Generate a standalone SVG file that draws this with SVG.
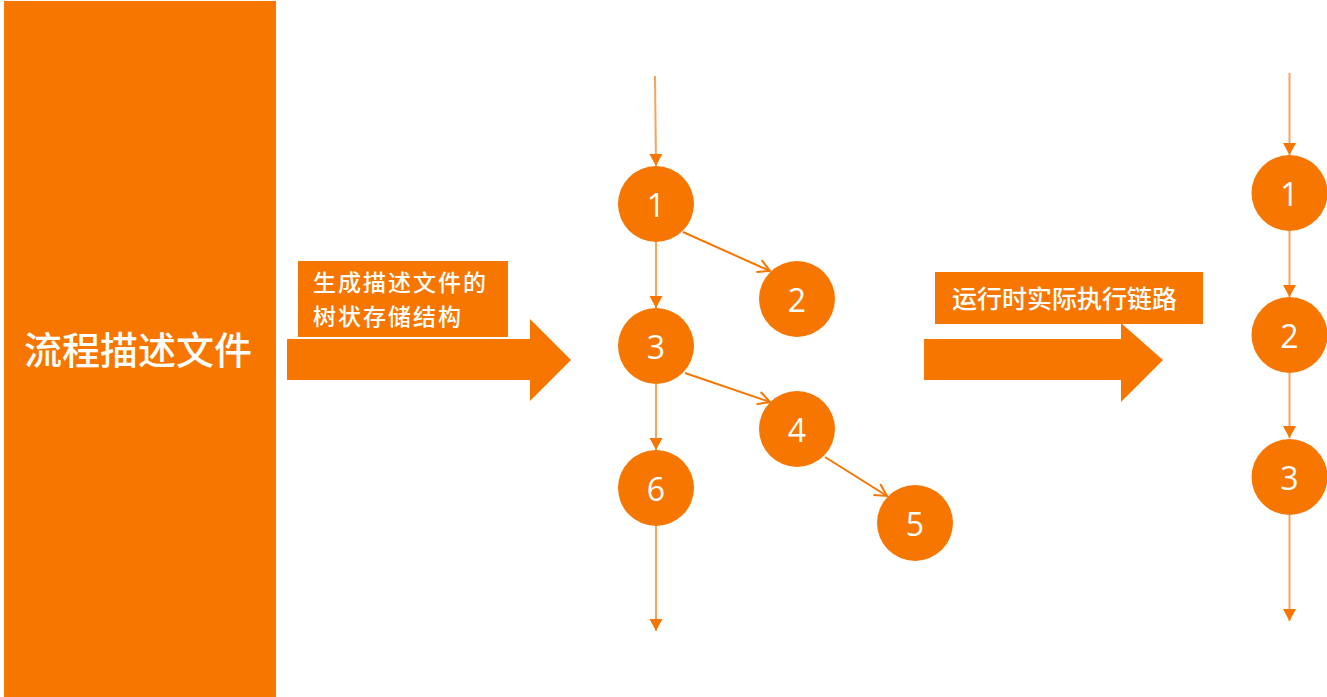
<svg xmlns="http://www.w3.org/2000/svg" width="1327" height="697" viewBox="0 0 1327 697">
<defs>
<style>
.o{fill:#F67600}
.cjk{font-family:"Noto Sans CJK SC","Noto Sans",sans-serif;fill:#ffffff;font-weight:500}
.num{font-family:"Open Sans","Noto Sans",sans-serif;font-size:32px;fill:#ffffff;text-anchor:middle;dominant-baseline:central}
.v{stroke:#F8A25A;stroke-width:2;fill:none}
.d{stroke:#F67600;stroke-width:2;fill:none}
</style>
<marker id="tri" markerUnits="userSpaceOnUse" markerWidth="14" markerHeight="14" viewBox="0 0 14 14" refX="12" refY="7" orient="auto">
<path d="M0,0.5 L12,7 L0,13.5 Z" fill="#F67600"/>
</marker>
<marker id="vee" markerUnits="userSpaceOnUse" markerWidth="16" markerHeight="16" viewBox="0 0 16 16" refX="14" refY="8" orient="auto">
<path d="M2,1.5 L14,8 L2,14.5" fill="none" stroke="#F67600" stroke-width="2"/>
</marker>
</defs>
<rect width="1327" height="697" fill="#ffffff"/>

<g id="source">
<rect class="o" x="4" y="1" width="272" height="696"/>
<text class="cjk" x="138" y="364" font-size="38" text-anchor="middle">流程描述文件</text>
</g>

<g id="arrow-build">
<polygon class="o" points="287,339 530,339 530,319 571,360 530,401 530,380 287,380"/>
<rect class="o" x="298" y="261" width="210" height="76"/>
<text class="cjk" x="313" y="291" font-size="23" letter-spacing="2">生成描述文件的</text>
<text class="cjk" x="313" y="325" font-size="23" letter-spacing="2">树状存储结构</text>
</g>

<g id="arrow-run">
<polygon class="o" points="924,339 1121,339 1121,323 1163,360 1121,402 1121,380 924,380"/>
<rect class="o" x="935" y="272" width="268" height="52"/>
<text class="cjk" x="952" y="308" font-size="25">运行时实际执行链路</text>
</g>

<g id="connectors">
<line class="v" x1="655" y1="76" x2="656" y2="166" marker-end="url(#tri)"/>
<line class="v" x1="656" y1="242" x2="656" y2="308" marker-end="url(#tri)"/>
<line class="v" x1="656" y1="384" x2="656" y2="450" marker-end="url(#tri)"/>
<line class="v" x1="656" y1="526" x2="656" y2="631" marker-end="url(#tri)"/>
<line class="d" x1="683" y1="232" x2="770" y2="271" marker-end="url(#vee)"/>
<line class="d" x1="685" y1="373" x2="770" y2="402" marker-end="url(#vee)"/>
<line class="d" x1="825" y1="457" x2="887" y2="496" marker-end="url(#vee)"/>
<line class="v" x1="1289.5" y1="73" x2="1289.5" y2="155" marker-end="url(#tri)"/>
<line class="v" x1="1289.5" y1="231" x2="1289.5" y2="297" marker-end="url(#tri)"/>
<line class="v" x1="1289.5" y1="373" x2="1289.5" y2="438" marker-end="url(#tri)"/>
<line class="v" x1="1289.5" y1="515" x2="1289.5" y2="621" marker-end="url(#tri)"/>
</g>

<g id="tree-1"><circle class="o" cx="656" cy="204" r="38"/><text class="num" x="656" y="204">1</text></g>
<g id="tree-2"><circle class="o" cx="797" cy="299" r="38"/><text class="num" x="797" y="299">2</text></g>
<g id="tree-3"><circle class="o" cx="656" cy="346" r="38"/><text class="num" x="656" y="346">3</text></g>
<g id="tree-4"><circle class="o" cx="797" cy="429" r="38"/><text class="num" x="797" y="429">4</text></g>
<g id="tree-5"><circle class="o" cx="915" cy="523" r="38"/><text class="num" x="915" y="523">5</text></g>
<g id="tree-6"><circle class="o" cx="656" cy="488" r="38"/><text class="num" x="656" y="488">6</text></g>

<g id="run-1"><circle class="o" cx="1289.5" cy="193" r="38"/><text class="num" x="1289.5" y="193">1</text></g>
<g id="run-2"><circle class="o" cx="1289.5" cy="335" r="38"/><text class="num" x="1289.5" y="335">2</text></g>
<g id="run-3"><circle class="o" cx="1289.5" cy="477" r="38"/><text class="num" x="1289.5" y="477">3</text></g>
</svg>
